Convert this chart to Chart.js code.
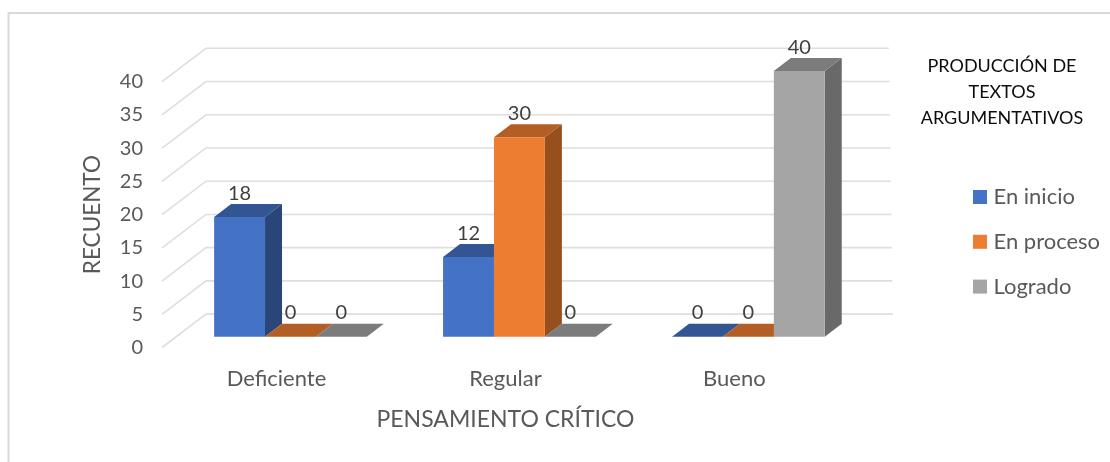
<!DOCTYPE html>
<html><head><meta charset="utf-8">
<style>html,body{margin:0;padding:0;background:#fff}canvas{display:block}</style>
<script src="https://cdn.jsdelivr.net/npm/chart.js@4"></script></head>
<body><canvas id="c" width="1110" height="462"></canvas>
<script>
const categories = ["Deficiente", "Regular", "Bueno"];
const enInicio = [18, 12, 0];
const enProceso = [0, 30, 0];
const logrado = [0, 0, 40];
const seriesNames = ["En inicio", "En proceso", "Logrado"];
const frontColors = ["#4472C4", "#ED7D31", "#A5A5A5"];
const topColors = ["#335593", "#B35E24", "#7C7C7C"];
const sideColors = ["#2A4679", "#964F1D", "#696969"];
const FONT = "Lato";
const TEXT = "#595959";
const GRID = "#DEDEDE";
const wall = {x: 44, y: 33.4, skew: 4};      // depth of the floor
const barShift = {x: 14, y: 10.8};           // bars stand inside the floor
const barDepth = {x: 17, y: 13};             // depth of each bar

function drawGrid(chart) {
  const c = chart.ctx, y = chart.scales.y, a = chart.chartArea;
  c.save();
  c.strokeStyle = GRID; c.lineWidth = 1.6;
  y.ticks.forEach(t => {
    const py = y.getPixelForValue(t.value);
    const right = a.right + wall.x - wall.skew * t.value / 40;
    c.beginPath();
    c.moveTo(a.left, py);
    c.lineTo(a.left + wall.x, py - wall.y);
    c.lineTo(right, py - wall.y);
    c.stroke();
  });
  c.restore();
}
function drawFaces(chart, meta, i) {
  const c = chart.ctx;
  meta.data.forEach(el => {
    const p = el.getProps(["x", "y", "base", "width"], true);
    const L = p.x - p.width / 2, R = p.x + p.width / 2;
    if (p.base - p.y > 0) {
      c.fillStyle = sideColors[i];
      c.beginPath();
      c.moveTo(R, p.y); c.lineTo(R + barDepth.x, p.y - barDepth.y);
      c.lineTo(R + barDepth.x, p.base - barDepth.y); c.lineTo(R, p.base);
      c.closePath(); c.fill();
    }
    c.fillStyle = topColors[i];
    c.beginPath();
    c.moveTo(L, p.y); c.lineTo(L + barDepth.x, p.y - barDepth.y);
    c.lineTo(R + barDepth.x, p.y - barDepth.y); c.lineTo(R, p.y);
    c.closePath(); c.fill();
  });
}
function drawValues(chart) {
  const c = chart.ctx;
  c.save();
  c.font = "20px " + FONT; c.fillStyle = "#404040";
  c.textAlign = "center"; c.textBaseline = "middle";
  chart.data.datasets.forEach((ds, i) => {
    chart.getDatasetMeta(i).data.forEach((el, j) => {
      const p = el.getProps(["x", "y"], true);
      c.fillText(String(ds.data[j]), p.x + barShift.x, p.y - barShift.y - 23.7);
    });
  });
  c.restore();
}

const threeD = {
  id: "threeD",
  afterLayout(chart) {
    const l = chart.legend;
    l.left = 954.7; l.width = 94.6; l.right = 1110; l.top = 57; l.bottom = 462;
    l.draw = function () { this._draw(); };   // the long title overhangs the legend box
  },
  beforeDraw(chart) {
    const c = chart.ctx;
    c.save();
    c.strokeStyle = "#D9D9D9"; c.lineWidth = 2;
    c.beginPath(); c.moveTo(1110, 13); c.lineTo(8.5, 13); c.lineTo(8.5, 462); c.stroke();
    c.restore();
  },
  beforeDatasetsDraw(chart) {
    const c = chart.ctx;
    drawGrid(chart);
    c.save();
    c.translate(barShift.x, -barShift.y);
    chart.data.datasets.forEach((ds, i) => {
      const meta = chart.getDatasetMeta(i);
      drawFaces(chart, meta, i);
      meta.controller.draw();
    });
    c.restore();
    drawValues(chart);
    return false;
  }
};

const makeSet = (name, data, k) => ({
  label: name, data, backgroundColor: frontColors[k], borderWidth: 0,
  categoryPercentage: 0.667, barPercentage: 1
});

new Chart(document.getElementById("c"), {
  type: "bar",
  data: {
    labels: categories,
    datasets: [makeSet(seriesNames[0], enInicio, 0), makeSet(seriesNames[1], enProceso, 1), makeSet(seriesNames[2], logrado, 2)]
  },
  plugins: [threeD],
  options: {
    responsive: false, animation: false,
    layout: {padding: {top: 81.7, right: 105.75, bottom: 0, left: 0}},
    plugins: {
      tooltip: {enabled: false},
      legend: {
        position: "right", align: "start",
        title: {
          display: true, position: "center", color: "#0D0D0D",
          text: ["PRODUCCIÓN DE", "TEXTOS", "ARGUMENTATIVOS"],
          font: {family: FONT, size: 18, lineHeight: 26 / 18},
          padding: {top: 0, bottom: 80.2}
        },
        labels: {
          boxWidth: 5, boxHeight: 5, padding: 22.8, color: TEXT, font: {family: FONT, size: 22},
          generateLabels: () => seriesNames.map((name, i) => ({
            text: name, fillStyle: frontColors[i], strokeStyle: frontColors[i], lineWidth: 9, datasetIndex: i, fontColor: TEXT
          }))
        }
      }
    },
    scales: {
      x: {
        afterFit(s) { s.height = 114.5; },
        grid: {display: false, drawTicks: false}, border: {display: false},
        ticks: {padding: 18, color: TEXT, font: {family: FONT, size: 22}, maxRotation: 0},
        title: {display: true, text: "PENSAMIENTO CRÍTICO", color: TEXT, font: {family: FONT, size: 23}, padding: {top: 0, bottom: 29}}
      },
      y: {
        min: 0, max: 40,
        afterFit(s) { s.width = 162; },
        grid: {display: false, drawTicks: false}, border: {display: false},
        ticks: {stepSize: 5, padding: 19, color: TEXT, font: {family: FONT, size: 20}},
        title: {display: true, text: "RECUENTO", color: TEXT, font: {family: FONT, size: 22.5}, padding: {top: 79, bottom: 0}}
      }
    }
  }
});
</script></body></html>
